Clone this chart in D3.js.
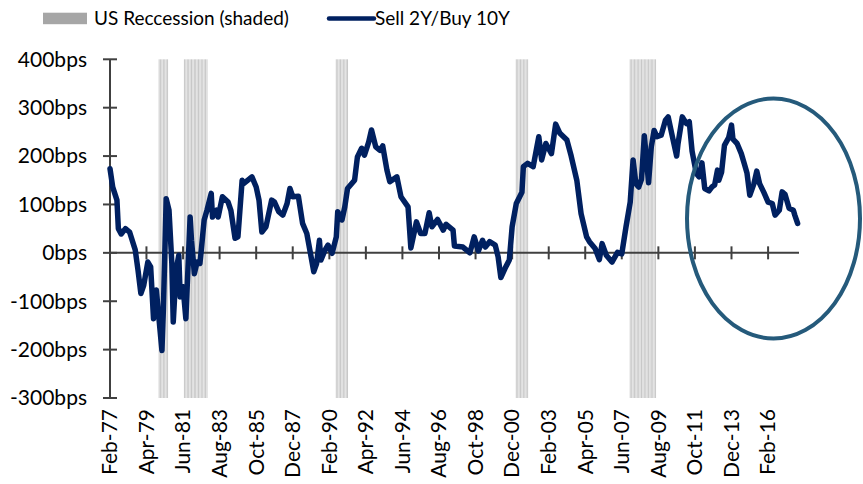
<!DOCTYPE html>
<html>
<head>
<meta charset="utf-8">
<script src="https://cdn.jsdelivr.net/npm/d3@7"></script>
<style>
  body { margin: 0; background: #fff; }
  text { font-family: Lato, "Open Sans", sans-serif; fill: #000; }
</style>
</head>
<body>
<div id="chart"></div>
<script>
const width = 863
const height = 484

// spread values (bps) at turning points
const dates = [
  "1977-02","1977-04","1977-07","1977-08","1977-10","1978-01","1978-04","1978-08","1978-10","1978-12",
  "1979-02","1979-05","1979-07","1979-09","1979-11","1980-03","1980-04","1980-06","1980-08","1980-10",
  "1980-11","1981-01","1981-03","1981-04","1981-06","1981-08","1981-11","1981-12","1982-02","1982-04",
  "1982-06","1982-07","1982-09","1982-11","1983-02","1983-03","1983-06","1983-07","1983-10","1984-02",
  "1984-04","1984-07","1984-09","1984-12","1985-01","1985-07","1985-10","1985-12","1986-02","1986-05",
  "1986-09","1986-11","1987-02","1987-05","1987-08","1987-10","1987-12","1988-04","1988-07","1988-10",
  "1989-01","1989-03","1989-05","1989-07","1989-08","1989-11","1990-01","1990-04","1990-07","1990-08",
  "1990-11","1991-01","1991-03","1991-08","1991-10","1992-01","1992-03","1992-06","1992-08","1992-11",
  "1993-02","1993-04","1993-07","1993-09","1994-02","1994-05","1994-10","1994-12","1995-04","1995-07",
  "1995-10","1996-01","1996-03","1996-07","1996-11","1997-01","1997-06","1997-07","1998-01","1998-06",
  "1998-09","1998-12","1999-03","1999-05","1999-08","1999-12","2000-02","2000-04","2000-07","2000-10",
  "2000-12","2001-03","2001-07","2001-08","2001-11","2002-03","2002-07","2002-09","2002-12","2003-04",
  "2003-07","2003-10","2004-03","2004-06","2004-10","2005-01","2005-05","2005-07","2005-11","2006-02",
  "2006-04","2006-07","2006-11","2007-03","2007-06","2007-09","2007-12","2008-02","2008-04","2008-06",
  "2008-08","2008-10","2009-01","2009-03","2009-05","2009-07","2009-10","2010-01","2010-03","2010-06",
  "2010-09","2010-10","2011-01","2011-04","2011-06","2011-08","2011-11","2012-01","2012-03","2012-05",
  "2012-08","2012-10","2012-12","2013-02","2013-03","2013-05","2013-07","2013-10","2013-12","2014-01",
  "2014-04","2014-07","2014-09","2014-11","2015-01","2015-04","2015-06","2015-08","2015-11","2016-02",
  "2016-05","2016-07","2016-10","2016-12","2017-02","2017-05","2017-08","2017-09","2017-11"
]
const spread = [
  174,136,109,50,39,50,43,6,-36,-84,
  -67,-19,-29,-136,-77,-202,-118,112,88,-21,
  -143,-36,-5,-91,-70,-136,74,26,-43,-19,
  -22,6,68,88,123,74,88,74,116,105,
  88,30,33,150,143,157,136,109,43,54,
  109,105,85,78,102,133,116,117,61,40,
  -8,-39,-22,26,-15,6,16,-1,33,85,
  68,95,133,150,198,216,202,229,254,219,
  212,221,171,147,157,116,95,10,64,40,
  40,83,54,69,47,59,47,14,12,0,
  33,4,26,12,23,16,-8,-51,-32,-15,
  54,102,125,178,185,178,240,192,226,205,
  266,247,233,200,150,81,33,23,9,-14,
  19,-5,-19,1,-2,54,105,192,143,136,
  152,242,145,219,253,240,243,274,281,240,
  200,226,281,267,271,210,164,157,186,133,
  128,136,140,171,150,167,222,238,264,235,
  226,205,185,165,119,143,169,143,125,105,
  102,78,88,126,121,92,88,78,61
]

// US recessions, first and last month
const recessionStart = ["1980-01","1981-07","1990-07","2001-03","2007-12"]
const recessionEnd   = ["1980-07","1982-11","1991-03","2001-11","2009-06"]

const xTickLabels = ["Feb-77","Apr-79","Jun-81","Aug-83","Oct-85","Dec-87","Feb-90","Apr-92","Jun-94",
  "Aug-96","Oct-98","Dec-00","Feb-03","Apr-05","Jun-07","Aug-09","Oct-11","Dec-13","Feb-16"]
const yTicks = [-300, -200, -100, 0, 100, 200, 300, 400]

const parseYM = d3.timeParse("%Y-%m")
const parseTick = d3.timeParse("%b-%y")

const data = dates.map((d, i) => ({ date: parseYM(d), value: spread[i] }))

const svg = d3.select("#chart")
  .append("svg")
  .attr("width", width)
  .attr("height", height)

const x = d3.scaleTime()
  .domain([parseYM("1977-02"), parseYM("2017-12")])
  .range([110, 799])

const y = d3.scaleLinear()
  .domain([-300, 400])
  .range([398, 59.3])

// recession shading: one thin column per month
const recMonths = []
recessionStart.forEach((s, i) => {
  d3.timeMonth.range(parseYM(s), d3.timeMonth.offset(parseYM(recessionEnd[i]), 1))
    .forEach(m => recMonths.push(m))
})
svg.append("g")
  .selectAll("rect")
  .data(recMonths)
  .enter()
  .append("rect")
  .attr("x", d => x(d) - 0.5)
  .attr("width", 1)
  .attr("y", y(400))
  .attr("height", y(-300) - y(400))
  .attr("fill", "#c8c8c8")

// y axis
const axisColor = "#404040"
svg.append("line")
  .attr("x1", 110).attr("x2", 110)
  .attr("y1", y(400)).attr("y2", y(-300))
  .attr("stroke", axisColor).attr("stroke-width", 2)

svg.append("g")
  .selectAll("line")
  .data(yTicks)
  .enter()
  .append("line")
  .attr("x1", 103).attr("x2", 117)
  .attr("y1", d => y(d)).attr("y2", d => y(d))
  .attr("stroke", axisColor).attr("stroke-width", 2)

svg.append("g")
  .selectAll("text")
  .data(yTicks)
  .enter()
  .append("text")
  .attr("x", 87)
  .attr("y", d => y(d))
  .attr("dy", "0.35em")
  .attr("text-anchor", "end")
  .style("font-size", "21px")
  .text(d => d + "bps")

// x axis along zero
svg.append("line")
  .attr("x1", 110).attr("x2", x(parseYM("2017-12")))
  .attr("y1", y(0)).attr("y2", y(0))
  .attr("stroke", axisColor).attr("stroke-width", 2)

svg.append("g")
  .selectAll("line")
  .data(xTickLabels)
  .enter()
  .append("line")
  .attr("x1", d => x(parseTick(d))).attr("x2", d => x(parseTick(d)))
  .attr("y1", y(0) - 6.5).attr("y2", y(0) + 6.5)
  .attr("stroke", axisColor).attr("stroke-width", 2)

svg.append("g")
  .selectAll("text")
  .data(xTickLabels)
  .enter()
  .append("text")
  .attr("transform", d => `translate(${x(parseTick(d))},409) rotate(-90)`)
  .attr("dy", "0.35em")
  .attr("text-anchor", "end")
  .style("font-size", "21px")
  .text(d => d)

// spread line
const line = d3.line()
  .x(d => x(d.date))
  .y(d => y(d.value))

svg.append("path")
  .datum(data)
  .attr("d", line)
  .attr("fill", "none")
  .attr("stroke", "#002060")
  .attr("stroke-width", 5.5)
  .attr("stroke-linejoin", "round")
  .attr("stroke-linecap", "round")

// highlight ellipse
svg.append("ellipse")
  .attr("cx", 773.5).attr("cy", 218.5)
  .attr("rx", 86.5).attr("ry", 120)
  .attr("fill", "none")
  .attr("stroke", "#255a7b")
  .attr("stroke-width", 4)

// legend
svg.append("rect")
  .attr("x", 43).attr("y", 12.7)
  .attr("width", 44).attr("height", 11.5)
  .attr("fill", "#a6a6a6")
svg.append("text")
  .attr("x", 94).attr("y", 25)
  .style("font-size", "19px")
  .text("US Reccession (shaded)")

svg.append("line")
  .attr("x1", 329).attr("x2", 374)
  .attr("y1", 18.5).attr("y2", 18.5)
  .attr("stroke", "#002060")
  .attr("stroke-width", 4.5)
  .attr("stroke-linecap", "round")
svg.append("text")
  .attr("x", 375).attr("y", 25)
  .style("font-size", "19px")
  .text("Sell 2Y/Buy 10Y")
</script>
</body>
</html>
